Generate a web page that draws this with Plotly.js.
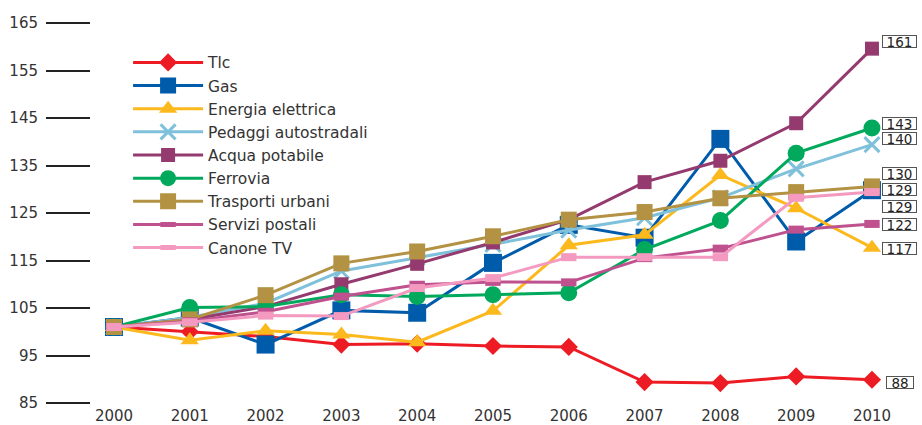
<!DOCTYPE html>
<html>
<head>
<meta charset="utf-8">
<script src="https://cdn.plot.ly/plotly-3.0.1.min.js"></script>
<style>
  html, body { margin: 0; padding: 0; background: #fff; }
  #chart { width: 922px; height: 425px; }
</style>
</head>
<body>
<div id="chart"></div>
<script>
// Data (index, 2000 = ~101)
const years = [2000, 2001, 2002, 2003, 2004, 2005, 2006, 2007, 2008, 2009, 2010];

const tlc       = [101, 100, 99, 97.3, 97.5, 97, 96.8, 89.4, 89.2, 90.6, 89.9];
const gas       = [101, 103, 97.3, 104.5, 104, 114.5, 122.5, 119.8, 140.6, 119, 129.8];
const energia   = [101, 98.2, 100.2, 99.4, 97.8, 104.4, 118.2, 120.4, 133, 126, 117.7];
const pedaggi   = [101, 103, 106, 112.8, 115.6, 118.4, 121.4, 124, 128.2, 134.3, 139.4];
const acqua     = [101, 102.6, 105.3, 110, 114.3, 118.8, 123.6, 131.5, 136, 143.9, 159.6];
const ferrovia  = [101, 105.1, 105.3, 107.8, 107.4, 107.8, 108.2, 117.3, 123.4, 137.6, 142.9];
const trasporti = [101, 102.6, 107.7, 114.4, 116.9, 120.1, 123.6, 125.2, 128.1, 129.4, 130.6];
const postali   = [101, 102.2, 104.2, 107.4, 109.9, 110.5, 110.4, 115.5, 117.5, 121.5, 122.7];
const canoneTv  = [101, 102, 103.4, 103.3, 109.2, 111.3, 115.7, 115.7, 115.7, 128.2, 129.4];

const endLabels = ['161', '143', '140', '130', '129', '129', '122', '117', '88'];

// series definitions: name, values, colour, marker
const series = [
    { name: 'Tlc', y: tlc, color: '#ed1c24', symbol: 'diamond', size: 14 },
    { name: 'Gas', y: gas, color: '#005baa', symbol: 'square', size: 18 },
    { name: 'Energia elettrica', y: energia, color: '#fbb91e', symbol: 'triangle-up', size: 16 },
    { name: 'Pedaggi autostradali', y: pedaggi, color: '#7fc0da', symbol: 'x-thin-open', size: 15, open: true },
    { name: 'Acqua potabile', y: acqua, color: '#943a6f', symbol: 'square', size: 14 },
    { name: 'Ferrovia', y: ferrovia, color: '#00a95c', symbol: 'circle', size: 17 },
    { name: 'Trasporti urbani', y: trasporti, color: '#b39343', symbol: 'square', size: 16 },
    { name: 'Servizi postali', y: postali, color: '#c0518f', symbol: 'line-ew-open', size: 11, bar: true },
    { name: 'Canone TV', y: canoneTv, color: '#f49ac1', symbol: 'line-ew-open', size: 11, bar: true }
];

const traces = series.map(s => {
    const marker = { symbol: s.symbol, size: s.size, color: s.color };
    if (s.open) marker.line = { color: s.color, width: 3 };
    if (s.bar) marker.line = { color: s.color, width: 8 };
    return {
        x: years,
        y: s.y,
        name: s.name,
        type: 'scatter',
        mode: 'lines+markers',
        line: { color: s.color, width: 3 },
        marker: marker,
        cliponaxis: false
    };
});

// boxed value tags on the right, spread apart so they don't overlap
const tagY = [161.06, 143.8, 140.6, 133.3, 129.9, 126.4, 122.6, 117.5, 89.3];
const annotations = endLabels.map((txt, i) => ({
    x: 1.025,
    y: tagY[i],
    xref: 'paper',
    yref: 'y',
    text: txt,
    showarrow: false,
    xanchor: 'center',
    yanchor: 'middle',
    font: { family: 'DejaVu Sans, Verdana, sans-serif', size: 13.5, color: '#222' },
    bgcolor: '#fff',
    bordercolor: '#555',
    borderwidth: 1,
    borderpad: 0,
    width: txt.length > 2 ? 33 : 26,
    height: 11
}));

const layout = {
    width: 922,
    height: 425,
    paper_bgcolor: '#fff',
    plot_bgcolor: '#fff',
    margin: { l: 91, r: 42, t: 23, b: 22 },
    font: { family: 'DejaVu Sans, Verdana, sans-serif', color: '#333' },
    showlegend: true,
    legend: {
        x: 0.047,
        y: 0.94,
        xanchor: 'left',
        yanchor: 'top',
        bgcolor: 'rgba(0,0,0,0)',
        font: { size: 15.5, color: '#333' },
        itemwidth: 70
    },
    xaxis: {
        range: [1999.697, 2010.106],
        tickvals: years,
        ticktext: years.map(String),
        showgrid: false,
        zeroline: false,
        showline: false,
        ticks: '',
        ticklabelstandoff: 2,
        tickfont: { size: 15, color: '#333' }
    },
    yaxis: {
        range: [85, 165],
        tickvals: [85, 95, 105, 115, 125, 135, 145, 155, 165],
        showgrid: false,
        zeroline: false,
        showline: false,
        ticks: 'outside',
        ticklen: 44,
        tickwidth: 2,
        tickcolor: '#222',
        ticklabelstandoff: 5,
        tickfont: { size: 15, color: '#333' }
    },
    annotations: annotations
};

Plotly.newPlot('chart', traces, layout, { displayModeBar: false, staticPlot: true });
</script>
</body>
</html>
